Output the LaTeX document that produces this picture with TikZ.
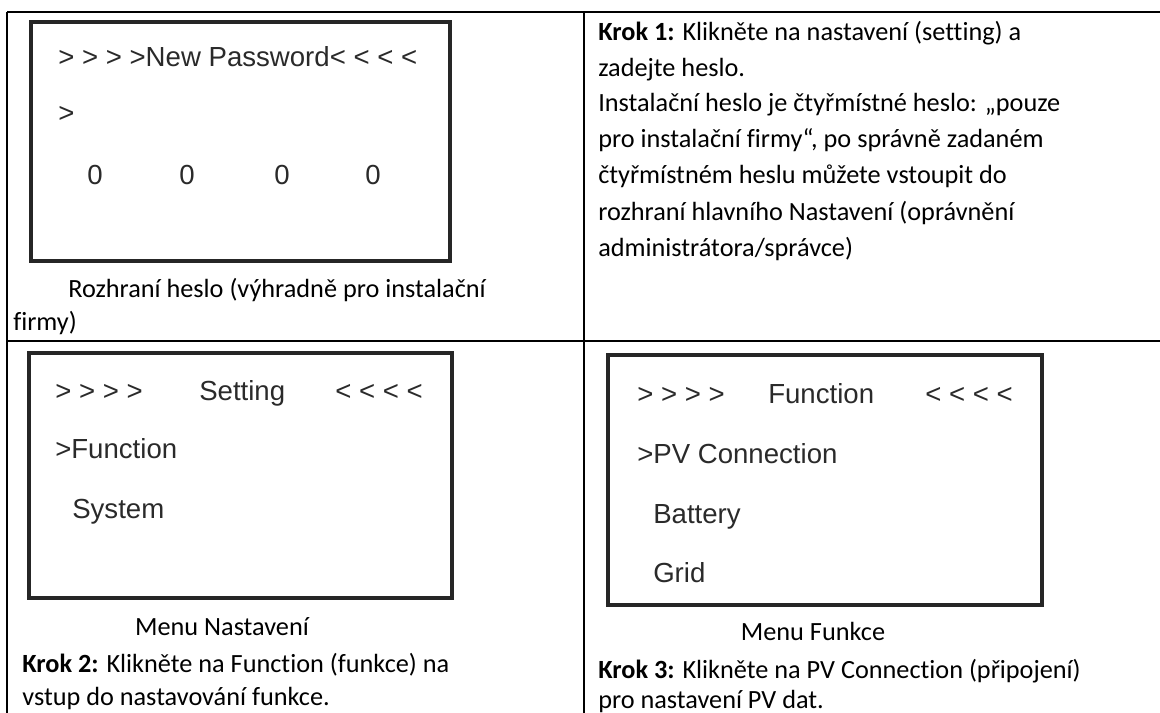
\documentclass[tikz,border=0pt]{standalone}
\usepackage{fontspec}
\setmainfont{Carlito}[Ligatures=NoCommon]
\newfontfamily\scr{Liberation Sans}
\definecolor{scrgray}{HTML}{2A2A2A}
\definecolor{framegray}{HTML}{262626}
\tikzset{
  rule/.style={line width=1.5pt, black},
  screen/.style={draw=framegray, line width=3pt},
  stxt/.style={inner sep=0pt, anchor=base west, font=\scr\fontsize{20.7pt}{24pt}\selectfont, text=scrgray},
  sdig/.style={inner sep=0pt, anchor=base, font=\scr\fontsize{20.7pt}{24pt}\selectfont, text=scrgray},
  ctxt/.style={inner sep=0pt, anchor=base west, font=\fontsize{19.7pt}{24pt}\selectfont, text=black},
  ccen/.style={inner sep=0pt, anchor=base, font=\fontsize{19.7pt}{24pt}\selectfont, text=black}
}
\begin{document}
\begin{tikzpicture}[x=0.75pt,y=-0.75pt]
\useasboundingbox (0,0) rectangle (1160,713);
% table rules
\coordinate (tl) at (7,12);
\coordinate (tr) at (1160,12);
\coordinate (ml) at (7,341);
\coordinate (mr) at (1160,341);
\coordinate (bl) at (7,713);
\coordinate (mt) at (584,12);
\coordinate (mb) at (584,713);
\draw[rule] (tl) -- (tr);
\draw[rule] (ml) -- (mr);
\draw[rule] (tl) -- (bl);
\draw[rule] (mt) -- (mb);
% screen 1
\draw[screen] (31,22) rectangle (450,261);
\node[stxt] (s1t) at (58,67) {> > > >New Password< < < <};
\node[stxt] (s1c) at (58,123) {>};
\node[sdig] (d1) at (95,185) {0};
\node[sdig] (d2) at (187,185) {0};
\node[sdig] (d3) at (282,185) {0};
\node[sdig] (d4) at (373,185) {0};
\node[ctxt] (c1a) at (68,297) {Rozhraní heslo (výhradně pro instalační};
\node[ctxt] (c1b) at (13,330) {firmy)};
% step 1 text
\node[ctxt] (k1a) at (598,41) {\textbf{Krok 1:} Klikněte na nastavení (setting) a};
\node[ctxt] (k1b) at (598,77) {zadejte heslo.};
\node[ctxt] (k1c) at (598,112) {Instalační heslo je čtyřmístné heslo: „pouze};
\node[ctxt] (k1d) at (598,148) {pro instalační firmy“, po správně zadaném};
\node[ctxt] (k1e) at (598,184) {čtyřmístném heslu můžete vstoupit do};
\node[ctxt] (k1f) at (598,220) {rozhraní hlavního Nastavení (oprávnění};
\node[ctxt] (k1g) at (598,256) {administrátora/správce)};
% screen 2
\draw[screen] (29,353) rectangle (452,598);
\node[stxt] (s2a) at (55,400) {> > > >};
\node[stxt] (s2b) at (199,400) {Setting};
\node[stxt] (s2c) at (335,400) {< < < <};
\node[stxt] (s2d) at (55,458) {>Function};
\node[stxt] (s2e) at (72,518) {System};
\node[ccen] (c2) at (222,635) {Menu Nastavení};
\node[ctxt] (k2a) at (22,672) {\textbf{Krok 2:} Klikněte na Function (funkce) na};
\node[ctxt] (k2b) at (22,705) {vstup do nastavování funkce.};
% screen 3
\draw[screen] (608,355) rectangle (1042,605);
\node[stxt] (s3a) at (637,403) {> > > >};
\node[stxt] (s3b) at (768,403) {Function};
\node[stxt] (s3c) at (925,403) {< < < <};
\node[stxt] (s3d) at (637,463) {>PV Connection};
\node[stxt] (s3e) at (653,523) {Battery};
\node[stxt] (s3f) at (653,582) {Grid};
\node[ccen] (c3) at (813,640) {Menu Funkce};
\node[ctxt] (k3a) at (598,678) {\textbf{Krok 3:} Klikněte na PV Connection (připojení)};
\node[ctxt] (k3b) at (598,708) {pro nastavení PV dat.};
\end{tikzpicture}
\end{document}
